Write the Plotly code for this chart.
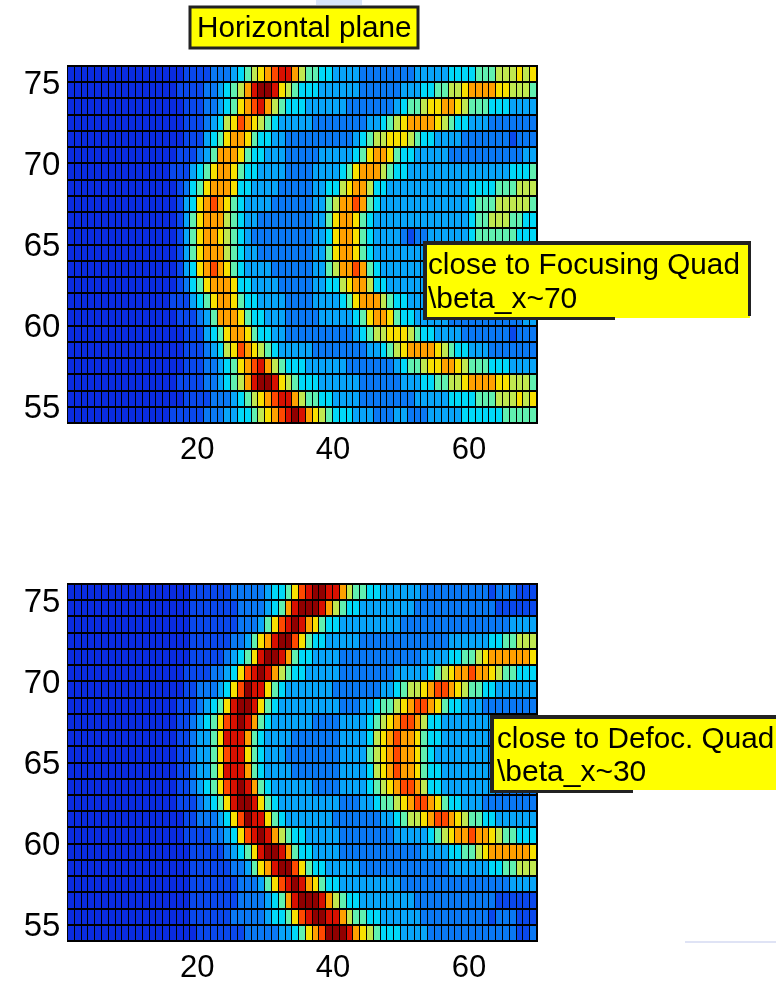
import plotly.graph_objects as go

W, H = 776, 985
# each row: one hex digit per cell (colour level 0-11), top row first
_t = [
"0000000000 0000000111 1222345678 9aa8655443 3332222222 2333334444 555666767",
"0000000000 0000001111 2234568abb a765444333 3332222223 3344556678 888776665",
"0000000000 0000000111 22345789a8 6544433333 3222222234 5567788765 554443333",
"0000000000 0000000111 2346798765 4333332222 2222334567 8888765443 332222222",
"0000000000 0000000111 3457887544 3322222222 2234566777 6544333322 222221222",
"0000000000 0000001112 3588875443 3322222333 3345788754 4333332222 222222233",
"0000000000 0000011134 5788754433 3322223333 4578886544 3333333333 333334445",
"0000000000 0000001245 7888744333 3222223344 6788644333 3333333334 444555666",
"0000000000 0000001347 8987543333 2222223356 8898543333 3333333334 555666665",
"0000000000 0000001357 8886543322 2222223357 8875433333 3333333334 556665544",
"0000000000 0000001357 8876543222 2222223347 8875433332 1223333334 555555444",
"0000000000 0000001357 8886543322 2222223357 8875433333 3333333334 556665544",
"0000000000 0000001347 8987543333 2222223356 8898543333 3333333334 555666665",
"0000000000 0000001245 7888744333 3222223344 6788644333 3333333334 444555666",
"0000000000 0000011134 5788754433 3322223333 4578886544 3333333333 333334445",
"0000000000 0000001112 3588875443 3322222333 3345788754 4333332222 222222233",
"0000000000 0000000111 3457887544 3322222222 2234566777 6544333322 222221222",
"0000000000 0000000111 2346798765 4333332222 2222334567 8888765443 332222222",
"0000000000 0000000111 22345789a8 6544433333 3222222234 5567788765 554443333",
"0000000000 0000001111 2234568abb a765444333 3332222223 3344556678 888776665",
"0000000000 0000000111 1222345678 9aa8655443 3332222222 2333334444 555666767",
"0000000000 0000011111 2223344567 89aba87654 4433322233 2223333344 444455555",
]
_b = [
"0000000000 0000000011 1111222223 44579abbaa 8655443333 3322222222 221222111",
"0000000000 0000000011 1111122223 458abbba86 5443333333 3222222222 222111111",
"0000000000 0000000011 1111122235 79aba87544 3333333332 2222222222 222223333",
"0000000000 0000000011 1111223578 abb9754433 3332222222 2222223333 334455666",
"0000000000 0000000011 11123457ab ba85443333 2222222222 2233334455 678888887",
"0000000000 0000000111 1223479aba 8654433333 2222222233 3334567889 887655444",
"0000000000 0000000112 223479baa7 5433333332 2222223345 6678998765 544333333",
"0000000000 0000001112 3457abba75 4333333333 2223345567 8998754433 322222222",
"0000000000 0000001123 4579aba854 3333332222 3333456789 9864433333 333222222",
"0000000000 0000001123 357aaa8543 3332222222 3333467898 8754433333 332222222",
"0000000000 0000001123 3579aa7543 3322222222 3333567898 8754333333 332222222",
"0000000000 0000001123 357aaa8543 3332222222 3333467898 8754433333 332222222",
"0000000000 0000001123 4579aba854 3333332222 3333456789 9864433333 333222222",
"0000000000 0000001112 3457abba75 4333333333 2223345567 8998754433 322222222",
"0000000000 0000000112 223479baa7 5433333332 2222223345 6678998765 544333333",
"0000000000 0000000111 1223479aba 8654433333 2222222233 3334567889 887655444",
"0000000000 0000000011 11123457ab ba85443333 2222222222 2233334455 678888887",
"0000000000 0000000011 1111223578 abb9754433 3332222222 2222223333 334455666",
"0000000000 0000000011 1111122235 79aba87544 3333333332 2222222222 222223333",
"0000000000 0000000011 1111122223 458abbba86 5443333333 3222222222 222111111",
"0000000000 0000000011 1111222223 44579abbaa 8655443333 3322222222 221222111",
"0000000000 0000000001 1111112222 23345789bb ba87654443 3332222222 222222112",
]
x_edges = list(range(1, 71))
y_edges = list(range(54, 77))
x_ticks = [20, 40, 60]
y_ticks = [55, 60, 65, 70, 75]
level_colors = ["#0a2ce0", "#0a48ec", "#0a78f4", "#08a4f8", "#00d8f8", "#60f0b0",
                "#c0e850", "#f8e000", "#ffa000", "#ff4800", "#d81000", "#900000"]


def decode(rows):
    out = []
    for r in rows:
        r = r.replace(" ", "")
        assert len(r) == 69, r
        out.append([int(c, 16) for c in r])
    return out[::-1]


scale = [[i / 11, c] for i, c in enumerate(level_colors)]
fig = go.Figure()
for rows, xa, ya in ((_t, "x", "y"), (_b, "x2", "y2")):
    fig.add_trace(go.Heatmap(z=decode(rows), x=x_edges, y=y_edges, xaxis=xa, yaxis=ya,
                             colorscale=scale, zmin=0, zmax=11, showscale=False,
                             xgap=1, ygap=2, hoverinfo="skip"))


def fx(p):
    return p / W


def fy(p):
    return 1 - p / H


common = dict(showgrid=False, zeroline=False, showline=True, linecolor="black", linewidth=1,
              mirror=True, ticks="", automargin=False)
x_common = dict(domain=[fx(68), fx(537)], range=[1, 70], tickvals=x_ticks, ticklabelstandoff=-2,
                tickfont=dict(family="Liberation Sans", size=31, color="black"), **common)
y_common = dict(range=[54, 76], tickvals=y_ticks, ticklabelstandoff=0,
                tickfont=dict(family="Liberation Sans", size=33, color="black"), **common)
fig.update_layout(
    width=W, height=H, margin=dict(l=0, r=0, t=0, b=0), showlegend=False,
    paper_bgcolor="white", plot_bgcolor="black",
    font=dict(family="Liberation Sans", color="black"),
    xaxis=dict(anchor="y", **x_common),
    yaxis=dict(domain=[fy(423), fy(66)], anchor="x", **y_common),
    xaxis2=dict(anchor="y2", **x_common),
    yaxis2=dict(domain=[fy(941), fy(584)], anchor="x2", **y_common),
)


def rect(x0, y0, x1, y1, fill, line=None, lw=0):
    fig.add_shape(type="rect", xref="paper", yref="paper", x0=fx(x0), x1=fx(x1), y0=fy(y1), y1=fy(y0),
                  fillcolor=fill, line=dict(color=line or fill, width=lw), layer="above")


def label(x, y, text, size=29.7):
    fig.add_annotation(xref="paper", yref="paper", x=fx(x), y=fy(y), text=text, showarrow=False,
                       xanchor="left", yanchor="middle", align="left",
                       font=dict(family="Liberation Sans", size=size, color="black"))


# faint artefacts of the source image
rect(316, 0, 362, 5, "#d8e4f8")
rect(685, 941, 776, 943, "#dfe3f5")

# title box
rect(190, 7, 418, 48, "#ffff00", "#222222", 3)
label(195, 27, "Horizontal plane")

# focusing-quad box
rect(424, 243, 750, 318, "#ffff00")
rect(423, 241, 750, 245, "#222222")
rect(423, 241, 427, 320, "#222222")
rect(423, 317, 615, 320, "#222222")
rect(748, 241, 751, 316, "#222222")
label(426, 264, "close to Focusing Quad")
label(426, 297, "\\beta_x~70", 30)

# defocusing-quad box
rect(492, 717, 776, 790, "#ffff00")
rect(490, 715, 776, 719, "#222222")
rect(490, 715, 494, 792, "#222222")
rect(490, 790, 633, 793, "#222222")
label(495, 737, "close to Defoc. Quad")
label(495, 770, "\\beta_x~30", 30)

fig.write_html("out.html", config=dict(displayModeBar=False),
               post_script="document.body.style.margin='0';document.documentElement.style.overflow='hidden';"
                           "document.body.style.filter='blur(0.6px)';")
